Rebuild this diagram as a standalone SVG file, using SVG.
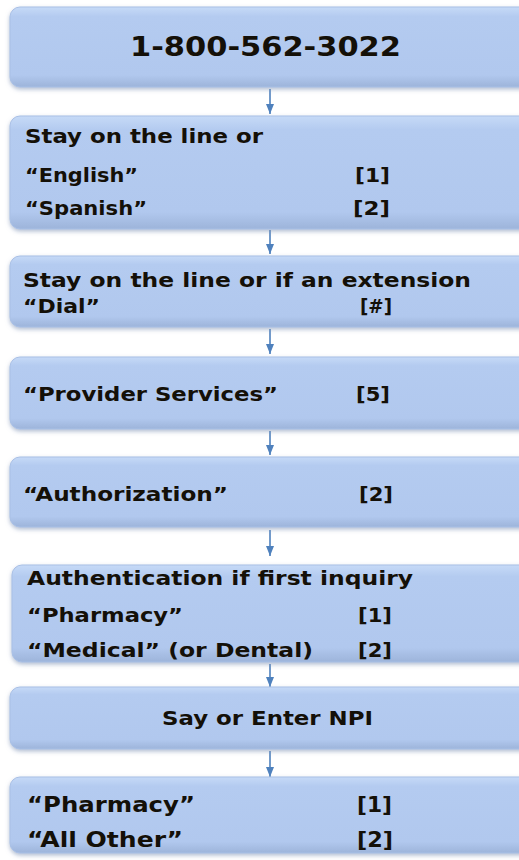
<svg xmlns="http://www.w3.org/2000/svg" width="519" height="860" viewBox="0 0 519 860">
  <defs>
    <linearGradient id="boxFill" x1="0" y1="0" x2="0" y2="1">
      <stop offset="0" stop-color="#C6DAF7"/>
      <stop offset="0.12" stop-color="#B4CBF0"/>
      <stop offset="0.85" stop-color="#B1C8EE"/>
      <stop offset="1" stop-color="#9DB4DA"/>
    </linearGradient>
    <filter id="shadow" x="-5%" y="-10%" width="110%" height="130%">
      <feGaussianBlur in="SourceAlpha" stdDeviation="2"/>
      <feOffset dx="0" dy="2" result="b"/>
      <feFlood flood-color="#7F93B5" flood-opacity="0.6"/>
      <feComposite in2="b" operator="in"/>
      <feMerge>
        <feMergeNode/>
        <feMergeNode in="SourceGraphic"/>
      </feMerge>
    </filter>
    <marker id="arrow" viewBox="0 0 10 8" refX="10" refY="4" markerWidth="10" markerHeight="8" markerUnits="userSpaceOnUse" orient="auto">
      <path d="M0,0 L10,4 L0,8 Z" fill="#4F81BD"/>
    </marker>
  </defs>
  <style>
    .box { fill: url(#boxFill); stroke: #A9C0E6; stroke-width: 1; filter: url(#shadow); }
    .t { font-family: "DejaVu Sans", Verdana, sans-serif; font-weight: bold; font-size: 20px; fill: #141008; }
    .title { font-size: 27px; }
    .big { font-size: 21px; }
    .conn { stroke: #4F81BD; stroke-width: 1.6; fill: none; marker-end: url(#arrow); }
  </style>

  <rect width="519" height="860" fill="#FFFFFF"/>

  <!-- connectors between steps -->
  <g id="connectors">
    <line class="conn" x1="270" y1="89" x2="270" y2="114"/>
    <line class="conn" x1="270" y1="230" x2="270" y2="254"/>
    <line class="conn" x1="270" y1="329" x2="270" y2="354"/>
    <line class="conn" x1="270" y1="431" x2="270" y2="455"/>
    <line class="conn" x1="270" y1="530" x2="270" y2="556"/>
    <line class="conn" x1="270" y1="664" x2="270" y2="687"/>
    <line class="conn" x1="270" y1="751" x2="270" y2="777"/>
  </g>

  <g id="phone">
    <rect class="box" x="10" y="7" width="525" height="80" rx="10"/>
    <text class="t title" x="130" y="56" textLength="271" lengthAdjust="spacingAndGlyphs">1-800-562-3022</text>
  </g>

  <g id="language">
    <rect class="box" x="10" y="116" width="525" height="113" rx="10"/>
    <text class="t" x="25" y="143" textLength="238" lengthAdjust="spacingAndGlyphs">Stay on the line or</text>
    <text class="t" x="25" y="182" textLength="113" lengthAdjust="spacingAndGlyphs">“English”</text>
    <text class="t" x="355" y="182" textLength="35" lengthAdjust="spacingAndGlyphs">[1]</text>
    <text class="t" x="25" y="215" textLength="122" lengthAdjust="spacingAndGlyphs">“Spanish”</text>
    <text class="t" x="353" y="215" textLength="37" lengthAdjust="spacingAndGlyphs">[2]</text>
  </g>

  <g id="extension">
    <rect class="box" x="10" y="256" width="525" height="71" rx="10"/>
    <text class="t" x="23" y="287" textLength="448" lengthAdjust="spacingAndGlyphs">Stay on the line or if an extension</text>
    <text class="t" x="23" y="313" textLength="77" lengthAdjust="spacingAndGlyphs">“Dial”</text>
    <text class="t" x="360" y="313" textLength="32" lengthAdjust="spacingAndGlyphs">[#]</text>
  </g>

  <g id="provider">
    <rect class="box" x="10" y="357" width="525" height="72" rx="10"/>
    <text class="t" x="23" y="401" textLength="255" lengthAdjust="spacingAndGlyphs">“Provider Services”</text>
    <text class="t" x="356" y="401" textLength="34" lengthAdjust="spacingAndGlyphs">[5]</text>
  </g>

  <g id="authorization">
    <rect class="box" x="10" y="457" width="525" height="70" rx="10"/>
    <text class="t" x="23" y="501" textLength="205" lengthAdjust="spacingAndGlyphs">“Authorization”</text>
    <text class="t" x="359" y="501" textLength="34" lengthAdjust="spacingAndGlyphs">[2]</text>
  </g>

  <g id="authentication">
    <rect class="box" x="12" y="565" width="523" height="97" rx="10"/>
    <text class="t" x="27" y="585" textLength="386" lengthAdjust="spacingAndGlyphs">Authentication if first inquiry</text>
    <text class="t" x="27" y="622" textLength="156" lengthAdjust="spacingAndGlyphs">“Pharmacy”</text>
    <text class="t" x="358" y="622" textLength="34" lengthAdjust="spacingAndGlyphs">[1]</text>
    <text class="t" x="27" y="657" textLength="286" lengthAdjust="spacingAndGlyphs">“Medical” (or Dental)</text>
    <text class="t" x="358" y="657" textLength="34" lengthAdjust="spacingAndGlyphs">[2]</text>
  </g>

  <g id="npi">
    <rect class="box" x="10" y="687" width="525" height="62" rx="10"/>
    <text class="t" x="162" y="725" textLength="211" lengthAdjust="spacingAndGlyphs">Say or Enter NPI</text>
  </g>

  <g id="category">
    <rect class="box" x="10" y="777" width="525" height="76" rx="10"/>
    <text class="t big" x="27" y="812" textLength="168" lengthAdjust="spacingAndGlyphs">“Pharmacy”</text>
    <text class="t big" x="357" y="812" textLength="35" lengthAdjust="spacingAndGlyphs">[1]</text>
    <text class="t big" x="27" y="847" textLength="156" lengthAdjust="spacingAndGlyphs">“All Other”</text>
    <text class="t big" x="357" y="847" textLength="36" lengthAdjust="spacingAndGlyphs">[2]</text>
  </g>
</svg>
